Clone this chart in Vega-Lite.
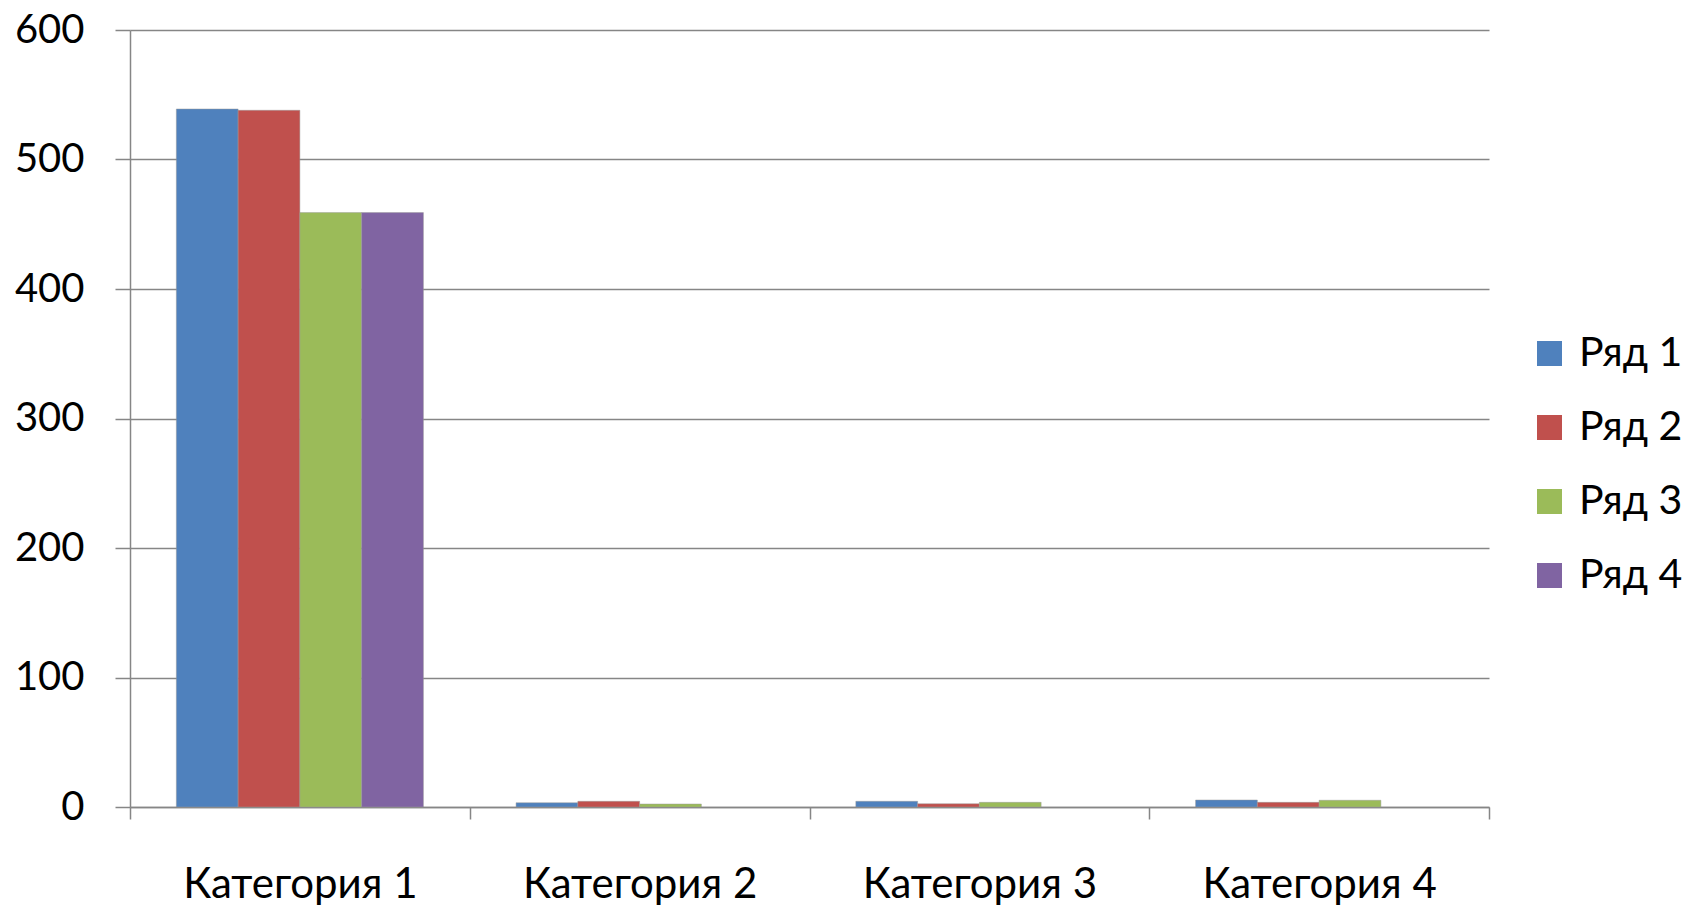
{
  "$schema": "https://vega.github.io/schema/vega-lite/v6.json",
  "autosize": "none",
  "width": 1359,
  "height": 777,
  "padding": {"left": 130, "top": 30, "right": 200, "bottom": 99},
  "background": "white",
  "config": {
    "view": {"stroke": null},
    "font": "Lato"
  },
  "data": {
    "values": [
      {"category": "Категория 1", "series": "Ряд 1", "value": 539},
      {"category": "Категория 1", "series": "Ряд 2", "value": 538},
      {"category": "Категория 1", "series": "Ряд 3", "value": 459},
      {"category": "Категория 1", "series": "Ряд 4", "value": 459},
      {"category": "Категория 2", "series": "Ряд 1", "value": 3.3},
      {"category": "Категория 2", "series": "Ряд 2", "value": 4.4},
      {"category": "Категория 2", "series": "Ряд 3", "value": 2.3},
      {"category": "Категория 3", "series": "Ряд 1", "value": 4.4},
      {"category": "Категория 3", "series": "Ряд 2", "value": 2.5},
      {"category": "Категория 3", "series": "Ряд 3", "value": 3.6},
      {"category": "Категория 4", "series": "Ряд 1", "value": 5.4},
      {"category": "Категория 4", "series": "Ряд 2", "value": 3.6},
      {"category": "Категория 4", "series": "Ряд 3", "value": 5.2}
    ]
  },
  "mark": {"type": "bar", "stroke": "#9a9a9a", "strokeWidth": 0.8, "strokeOpacity": 0.6},
  "encoding": {
    "x": {
      "field": "category",
      "type": "nominal",
      "sort": null,
      "scale": {"paddingInner": 0, "paddingOuter": 0},
      "axis": {
        "title": null,
        "labelAngle": 0,
        "labelFontSize": 42,
        "labelColor": "black",
        "labelLimit": 0,
        "labelPadding": 45,
        "tickBand": "extent",
        "tickSize": 12,
        "tickColor": "#868686",
        "tickWidth": 1.5,
        "domainColor": "#868686",
        "domainWidth": 1.5,
        "grid": false
      }
    },
    "xOffset": {
      "field": "series",
      "type": "nominal",
      "sort": ["Ряд 1", "Ряд 2", "Ряд 3", "Ряд 4"],
      "scale": {"domain": ["Ряд 1", "Ряд 2", "Ряд 3", "Ряд 4"], "paddingInner": 0, "paddingOuter": 0.75}
    },
    "y": {
      "field": "value",
      "type": "quantitative",
      "scale": {"domain": [0, 600], "nice": false},
      "axis": {
        "title": null,
        "values": [0, 100, 200, 300, 400, 500, 600],
        "labelFontSize": 40,
        "labelColor": "black",
        "labelPadding": 31,
        "tickSize": 15,
        "tickColor": "#868686",
        "tickWidth": 1.5,
        "domainColor": "#868686",
        "domainWidth": 1.5,
        "gridColor": "#868686",
        "gridWidth": 1.5
      }
    },
    "color": {
      "field": "series",
      "type": "nominal",
      "scale": {
        "domain": ["Ряд 1", "Ряд 2", "Ряд 3", "Ряд 4"],
        "range": ["#4F81BD", "#C0504D", "#9BBB59", "#8064A2"]
      },
      "legend": {
        "title": null,
        "orient": "none",
        "legendX": 1399,
        "legendY": 303,
        "symbolType": "square",
        "symbolSize": 625,
        "symbolStrokeWidth": 0,
        "labelFontSize": 41,
        "labelColor": "black",
        "labelLimit": 0,
        "labelOffset": 9,
        "rowPadding": 32
      }
    }
  }
}
